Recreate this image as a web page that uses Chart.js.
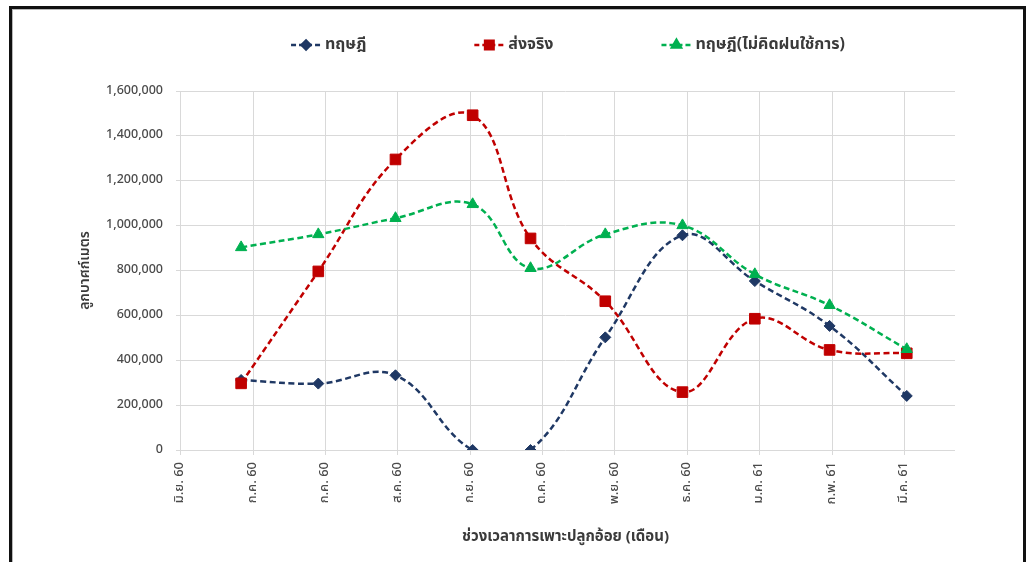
<!DOCTYPE html>
<html lang="th">
<head>
<meta charset="utf-8">
<title>ปริมาณน้ำ ทฤษฎี / ส่งจริง</title>
<script src="https://cdn.jsdelivr.net/npm/chart.js@4.4.1/dist/chart.umd.min.js"></script>
<style>
  html, body { margin: 0; padding: 0; background: #fff; }
  #wrap { position: relative; width: 1027px; height: 562px; overflow: hidden; }
  #frame {
    position: absolute; left: 9px; top: 6px; width: 1011px; height: 600px;
    border: 3px solid #111; border-bottom: none;
    box-shadow: inset 1px 1px 0 #b8b8b8;
    pointer-events: none;
  }
  canvas { position: absolute; left: 0; top: 0; }
</style>
</head>
<body>
<div id="wrap">
  <canvas id="chart" width="1027" height="562"></canvas>
  <div id="frame"></div>
</div>
<script>
// Axis ticks: one every 30 days, counted from 1 มิ.ย. 2560
const tickDays = [0, 30, 60, 90, 120, 150, 180, 210, 240, 270, 300];
const tickLabels = ['มิ.ย. 60', 'ก.ค. 60', 'ก.ค. 60', 'ส.ค. 60', 'ก.ย. 60', 'ต.ค. 60',
                    'พ.ย. 60', 'ธ.ค. 60', 'ม.ค. 61', 'ก.พ. 61', 'มี.ค. 61'];

// Measurement dates (days after 1 มิ.ย. 2560)
const sampleDays = [25, 57, 89, 121, 145, 176, 208, 238, 269, 301];

// Water volume, cubic metres
const theory      = [312000, 296000, 333000, 0, 0, 502000, 957000, 753000, 553000, 241000];
const delivered   = [297000, 796000, 1295000, 1492000, 943000, 663000, 258000, 585000, 446000, 431000];
const theoryNoRain = [903000, 961000, 1033000, 1095000, 810000, 961000, 1001000, 783000, 645000, 449000];

const seriesNames = ['ทฤษฎี', 'ส่งจริง', 'ทฤษฎี(ไม่คิดฝนใช้การ)'];

const THAI = "Tahoma, 'Noto Sans Thai', 'Leelawadee UI', 'Noto Sans', 'DejaVu Sans', sans-serif";
const NAVY = '#1f3864', RED = '#c00000', GREEN = '#00b050';
const TICK_COLOR = '#4a4a4a';

const toPoints = (vals) => vals.map((v, i) => ({ x: sampleDays[i], y: v }));

const lineStyle = {
  borderWidth: 2.5,
  borderDash: [6, 3.5],
  tension: 0.4,
  fill: false,
  pointBorderWidth: 1
};

const datasets = [
  Object.assign({}, lineStyle, {
    label: seriesNames[0], data: toPoints(theory),
    borderColor: NAVY, backgroundColor: NAVY, pointBackgroundColor: NAVY, pointBorderColor: NAVY,
    pointStyle: 'rectRot', pointRadius: 5.5, order: 3,
    // no line between the two zero readings
    segment: { borderColor: (c) => (c.p0DataIndex === 3 ? 'rgba(0,0,0,0)' : undefined) }
  }),
  Object.assign({}, lineStyle, {
    label: seriesNames[1], data: toPoints(delivered),
    borderColor: RED, backgroundColor: RED, pointBackgroundColor: RED, pointBorderColor: RED,
    pointStyle: 'rect', pointRadius: 7.5, order: 2
  }),
  Object.assign({}, lineStyle, {
    label: seriesNames[2], data: toPoints(theoryNoRain),
    borderColor: GREEN, backgroundColor: GREEN, pointBackgroundColor: GREEN, pointBorderColor: GREEN,
    pointStyle: 'triangle', pointRadius: 6.5, order: 1
  })
];

// Legend row drawn above the plot: dashed stub + marker + name
const keyRow = {
  id: 'keyRow',
  afterDraw(chart) {
    const ctx = chart.ctx;
    const y = 45, iconW = 30, textGap = 4, itemGap = 108;
    ctx.save();
    ctx.font = 'bold 16px ' + THAI;
    const widths = datasets.map(d => iconW + textGap + ctx.measureText(d.label).width);
    const total = widths.reduce((a, b) => a + b, 0) + itemGap * (widths.length - 1);
    let x = 568 - total / 2;
    datasets.forEach((d, i) => {
      ctx.strokeStyle = d.borderColor;
      ctx.lineWidth = 2.5;
      ctx.setLineDash([5, 3]);
      ctx.beginPath();
      ctx.moveTo(x, y); ctx.lineTo(x + iconW, y);
      ctx.stroke();
      ctx.setLineDash([]);
      Chart.helpers.drawPoint(ctx, {
        pointStyle: d.pointStyle, radius: d.pointRadius * 0.8, borderWidth: 1
      }, x + iconW / 2, y);
      ctx.fillStyle = d.borderColor;
      ctx.fill();
      ctx.fillStyle = '#3a3a3a';
      ctx.textBaseline = 'middle';
      ctx.textAlign = 'left';
      ctx.fillText(d.label, x + iconW + textGap, y + 1);
      x += widths[i] + itemGap;
    });
    ctx.restore();
  }
};

new Chart(document.getElementById('chart'), {
  type: 'line',
  data: { datasets },
  plugins: [keyRow],
  options: {
    responsive: false,
    animation: false,
    devicePixelRatio: 1,
    layout: { padding: { left: 0, right: 72, top: 91, bottom: 0 } },
    plugins: { legend: { display: false }, tooltip: { enabled: false } },
    scales: {
      x: {
        type: 'linear',
        min: -2,
        max: 321,
        afterFit(s) { s.height = 112; },
        afterBuildTicks(s) { s.ticks = tickDays.map(v => ({ value: v })); },
        border: { display: false },
        grid: { color: '#d9d9d9', lineWidth: 1, tickLength: 5 },
        ticks: {
          autoSkip: false,
          minRotation: 90,
          maxRotation: 90,
          padding: 7,
          color: TICK_COLOR,
          font: { family: THAI, size: 13, weight: '500' },
          callback: (v) => tickLabels[tickDays.indexOf(v)]
        },
        title: {
          display: true,
          text: 'ช่วงเวลาการเพาะปลูกอ้อย (เดือน)',
          color: '#3a3a3a',
          font: { family: THAI, size: 15, weight: 'bold' },
          padding: { top: 0, bottom: 15 }
        }
      },
      y: {
        min: 0,
        max: 1600000,
        afterFit(s) { s.width = 176; },
        border: { display: false },
        grid: { color: '#d9d9d9', lineWidth: 1, drawTicks: false },
        ticks: {
          stepSize: 200000,
          padding: 13,
          color: TICK_COLOR,
          font: { family: THAI, size: 12.5, weight: '500' },
          callback: (v) => v.toLocaleString('en-US')
        },
        title: {
          display: true,
          text: 'ลูกบาศก์เมตร',
          color: '#3a3a3a',
          font: { family: THAI, size: 14, weight: '600' },
          padding: { top: 78, bottom: 0 }
        }
      }
    }
  }
});
</script>
</body>
</html>
